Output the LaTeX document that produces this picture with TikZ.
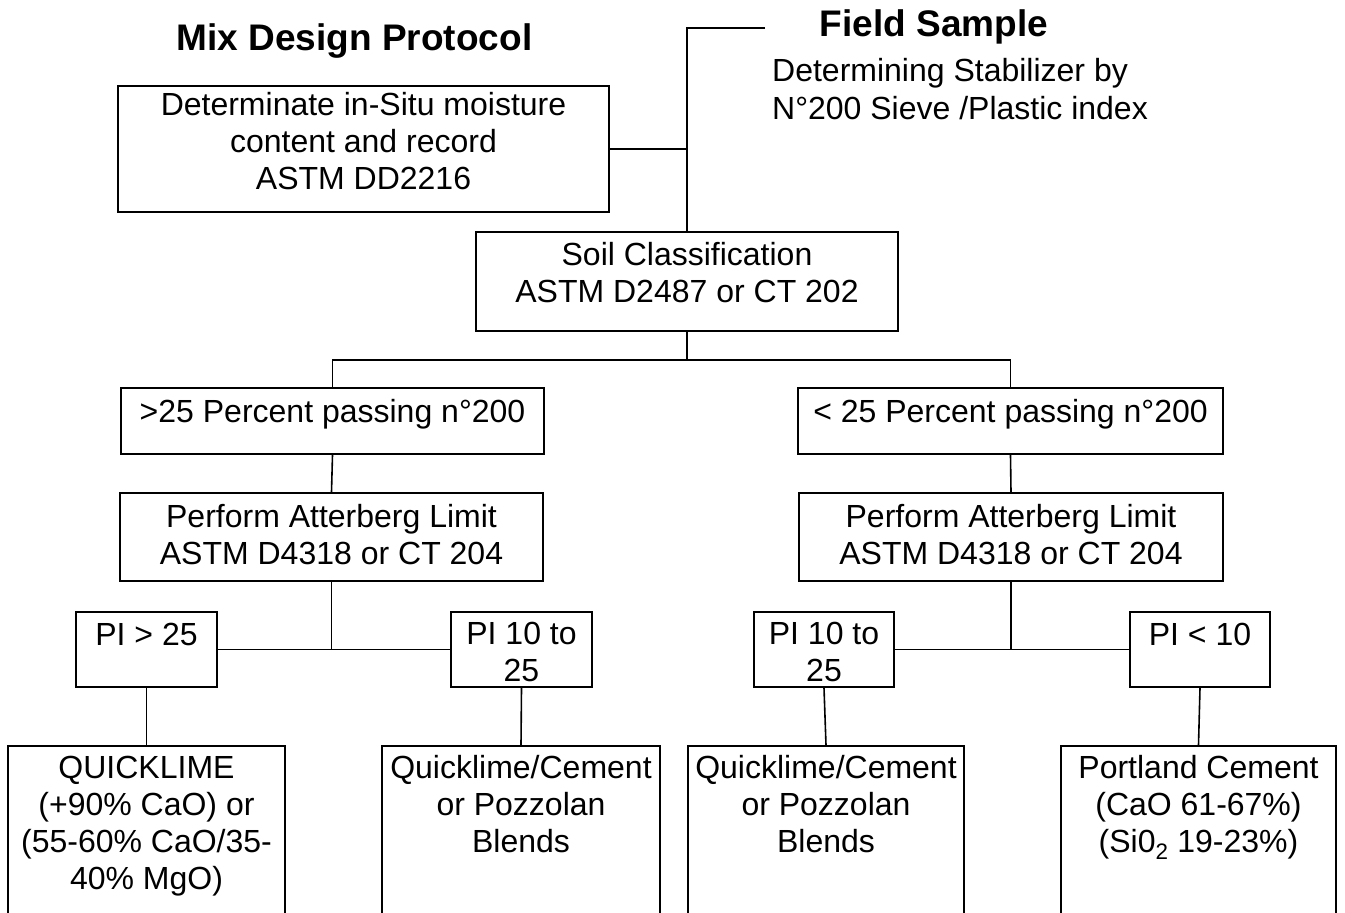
\documentclass[tikz,border=0pt]{standalone}
\usepackage{fontspec}
\setmainfont{Liberation Sans}
\usetikzlibrary{calc}
\begin{document}
\begin{tikzpicture}[x=1pt,y=-1pt,
  box/.style={draw, line width=2pt, rectangle, inner sep=0pt},
  txt/.style={inner sep=0pt, align=flush center, font=\fontsize{32}{37}\selectfont},
  ttl/.style={inner sep=0pt, font=\fontsize{37}{42}\selectfont\bfseries},
  conn/.style={line width=1.6pt}]
\useasboundingbox (0,0) rectangle (1345,913);
\fill[white] (0,0) rectangle (1345,913);
\clip (0,0) rectangle (1345,913);

% titles
\node[ttl, anchor=base] (title1) at (354.5,50) {Mix Design Protocol};
\node[ttl, anchor=base] (title2) at (934,36) {Field Sample};
\node[txt, anchor=base west, align=flush left, text width=420pt, font=\fontsize{32}{38}\selectfont] (note) at (772,81) {Determining Stabilizer by\\N°200 Sieve /Plastic index};

% boxes
\node[box, minimum width=491pt, minimum height=126pt] (det) at (363.5,149) {};
\node[box, minimum width=422pt, minimum height=99pt] (soil) at (687,281.5) {};
\node[box, minimum width=423pt, minimum height=66pt] (gt25) at (332.5,421) {};
\node[box, minimum width=425pt, minimum height=66pt] (lt25) at (1010.5,421) {};
\node[box, minimum width=423pt, minimum height=88pt] (attL) at (331.5,537) {};
\node[box, minimum width=424pt, minimum height=88pt] (attR) at (1011,537) {};
\node[box, minimum width=141pt, minimum height=75pt] (pigt) at (146.5,649.5) {};
\node[box, minimum width=141pt, minimum height=75pt] (pimidL) at (521.5,649.5) {};
\node[box, minimum width=140pt, minimum height=75pt] (pimidR) at (824,649.5) {};
\node[box, minimum width=140pt, minimum height=75pt] (pilt) at (1200,649.5) {};
\node[box, minimum width=277pt, minimum height=184pt] (b1) at (146.5,838) {};
\node[box, minimum width=278pt, minimum height=184pt] (b2) at (521,838) {};
\node[box, minimum width=276pt, minimum height=184pt] (b3) at (826,838) {};
\node[box, minimum width=275pt, minimum height=184pt] (b4) at (1198.5,838) {};

% texts
\node[txt, anchor=base, text width=480pt] (det-t) at (363.5,115) {Determinate in-Situ moisture\\content and record\\ASTM DD2216};
\node[txt, anchor=base, text width=420pt] (soil-t) at (687,265) {Soil Classification\\ASTM D2487 or CT 202};
\node[txt, anchor=base, text width=420pt] (gt25-t) at (332.5,422) {>25 Percent passing n°200};
\node[txt, anchor=base, text width=420pt] (lt25-t) at (1010.5,422) {< 25 Percent passing n°200};
\node[txt, anchor=base, text width=420pt] (attL-t) at (331.5,527) {Perform Atterberg Limit\\ASTM D4318 or CT 204};
\node[txt, anchor=base, text width=420pt] (attR-t) at (1011,527) {Perform Atterberg Limit\\ASTM D4318 or CT 204};
\node[txt, anchor=base, text width=140pt] (pigt-t) at (146.5,645) {PI > 25};
\node[txt, anchor=base, text width=140pt] (pimidL-t) at (521.5,644) {PI 10 to\\25};
\node[txt, anchor=base, text width=140pt] (pimidR-t) at (824,644) {PI 10 to\\25};
\node[txt, anchor=base, text width=140pt] (pilt-t) at (1200,645) {PI < 10};
\node[txt, anchor=base, text width=300pt] (b1-t) at (146.5,778) {QUICKLIME\\(+90\% CaO) or\\(55-60\% CaO/35-\\40\% MgO)};
\node[txt, anchor=base, text width=300pt] (b2-t) at (521,778) {Quicklime/Cement\\or Pozzolan\\Blends};
\node[txt, anchor=base, text width=300pt] (b3-t) at (826,778) {Quicklime/Cement\\or Pozzolan\\Blends};
\node[txt, anchor=base, text width=300pt] (b4-t) at (1198.5,778) {Portland Cement\\(CaO 61-67\%)\\(Si0\textsubscript{2} 19-23\%)};

% connectors
\coordinate (fs) at (765,28);
\coordinate (j1) at ($(soil.south)+(0,28)$);
\draw[conn] (fs) -| (soil.north);
\draw[conn] (det.east) -- (det.east -| soil.north);
\draw[conn] (soil.south) -- (j1);
\draw[conn] (gt25.north) |- (j1) -| (lt25.north);
\draw[conn] (gt25.south) -- (attL.north);
\draw[conn] (lt25.south) -- (attR.north);
\draw[conn] (attL.south) -- (attL.south |- pigt.east);
\draw[conn] (pigt.east) -- (pimidL.west);
\draw[conn] (attR.south) -- (attR.south |- pimidR.east);
\draw[conn] (pimidR.east) -- (pilt.west);
\draw[conn] (pigt.south) -- (b1.north);
\draw[conn] (pimidL.south) -- (b2.north);
\draw[conn] (pimidR.south) -- (b3.north);
\draw[conn] (pilt.south) -- (b4.north);
\end{tikzpicture}
\end{document}
